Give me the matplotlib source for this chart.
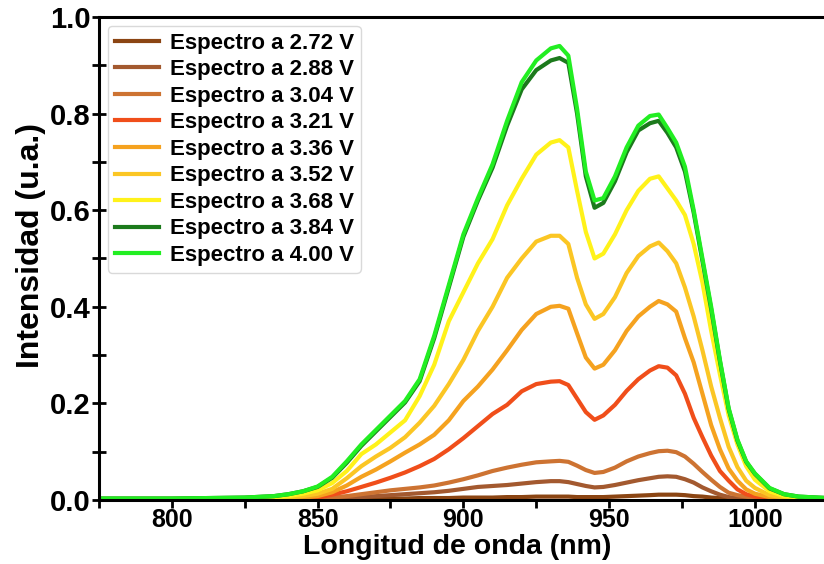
import matplotlib

matplotlib.use("Agg")
import matplotlib.pyplot as plt  # noqa: E402
from matplotlib.ticker import MultipleLocator  # noqa: E402

plt.rcParams["font.family"] = ["Liberation Sans", "DejaVu Sans"]
plt.rcParams["font.weight"] = "bold"

# --- Data ------------------------------------------------------------

WAVELENGTH = [775, 800, 825, 835, 840, 845, 850, 855, 860, 865, 870, 875,
              880, 885, 890, 895, 900, 905, 910, 915, 920, 925, 930, 933,
              936, 939, 942, 945, 948, 952, 956, 960, 964, 967, 970, 973,
              976, 979, 982, 985, 988, 991, 994, 997, 1000, 1005, 1010,
              1015, 1025]

V272 = [0.001, 0.001, 0.001, 0.001, 0.001, 0.001, 0.001, 0.001, 0.002,
        0.002, 0.003, 0.003, 0.003, 0.004, 0.004, 0.004, 0.005, 0.005,
        0.005, 0.006, 0.006, 0.007, 0.007, 0.007, 0.007, 0.006, 0.006,
        0.006, 0.006, 0.007, 0.008, 0.009, 0.010, 0.011, 0.011, 0.011,
        0.010, 0.008, 0.007, 0.005, 0.004, 0.003, 0.002, 0.002, 0.001,
        0.001, 0.001, 0.001, 0.001]
V288 = [0.001, 0.001, 0.001, 0.001, 0.001, 0.001, 0.002, 0.003, 0.004,
        0.006, 0.008, 0.010, 0.012, 0.014, 0.016, 0.019, 0.023, 0.027,
        0.029, 0.031, 0.034, 0.037, 0.039, 0.039, 0.037, 0.033, 0.029,
        0.026, 0.027, 0.031, 0.036, 0.041, 0.045, 0.048, 0.049, 0.048,
        0.043, 0.036, 0.026, 0.018, 0.011, 0.006, 0.004, 0.002, 0.002,
        0.001, 0.001, 0.001, 0.001]
V304 = [0.001, 0.001, 0.001, 0.001, 0.002, 0.002, 0.003, 0.005, 0.008,
        0.012, 0.016, 0.020, 0.023, 0.026, 0.030, 0.036, 0.043, 0.051,
        0.060, 0.067, 0.073, 0.078, 0.080, 0.081, 0.079, 0.071, 0.062,
        0.056, 0.058, 0.067, 0.080, 0.090, 0.097, 0.101, 0.102, 0.099,
        0.090, 0.075, 0.058, 0.042, 0.027, 0.015, 0.010, 0.007, 0.004,
        0.002, 0.001, 0.001, 0.001]
V321 = [0.002, 0.002, 0.002, 0.002, 0.002, 0.003, 0.005, 0.011, 0.018,
        0.027, 0.036, 0.046, 0.057, 0.070, 0.085, 0.105, 0.128, 0.153,
        0.178, 0.197, 0.225, 0.240, 0.245, 0.246, 0.238, 0.210, 0.182,
        0.166, 0.175, 0.197, 0.226, 0.250, 0.268, 0.277, 0.274, 0.258,
        0.220, 0.170, 0.130, 0.092, 0.060, 0.040, 0.022, 0.012, 0.007,
        0.004, 0.002, 0.002, 0.002]
V336 = [0.002, 0.002, 0.002, 0.002, 0.003, 0.005, 0.008, 0.016, 0.030,
        0.048, 0.063, 0.080, 0.098, 0.115, 0.135, 0.165, 0.205, 0.235,
        0.270, 0.310, 0.352, 0.385, 0.400, 0.402, 0.396, 0.345, 0.295,
        0.272, 0.280, 0.310, 0.350, 0.380, 0.400, 0.412, 0.405, 0.390,
        0.335, 0.285, 0.220, 0.155, 0.105, 0.065, 0.040, 0.022, 0.013,
        0.006, 0.003, 0.002, 0.002]
V352 = [0.002, 0.002, 0.002, 0.003, 0.005, 0.008, 0.013, 0.023, 0.045,
        0.070, 0.090, 0.108, 0.130, 0.160, 0.195, 0.240, 0.290, 0.350,
        0.400, 0.460, 0.500, 0.535, 0.547, 0.547, 0.530, 0.460, 0.405,
        0.375, 0.385, 0.420, 0.470, 0.505, 0.525, 0.533, 0.515, 0.490,
        0.440, 0.380, 0.310, 0.235, 0.170, 0.110, 0.068, 0.040, 0.025,
        0.010, 0.005, 0.003, 0.002]
V368 = [0.002, 0.002, 0.003, 0.005, 0.008, 0.013, 0.020, 0.035, 0.060,
        0.095, 0.115, 0.140, 0.165, 0.215, 0.280, 0.370, 0.430, 0.490,
        0.540, 0.610, 0.665, 0.715, 0.740, 0.745, 0.730, 0.640, 0.555,
        0.500, 0.510, 0.550, 0.600, 0.640, 0.665, 0.670, 0.645, 0.620,
        0.590, 0.530, 0.450, 0.350, 0.260, 0.175, 0.115, 0.070, 0.042,
        0.018, 0.008, 0.005, 0.003]
V384 = [0.003, 0.003, 0.005, 0.008, 0.012, 0.018, 0.027, 0.046, 0.077,
        0.112, 0.142, 0.172, 0.202, 0.246, 0.335, 0.440, 0.545, 0.620,
        0.688, 0.775, 0.850, 0.890, 0.910, 0.915, 0.905, 0.800, 0.670,
        0.605, 0.615, 0.660, 0.720, 0.765, 0.780, 0.785, 0.760, 0.730,
        0.680, 0.595, 0.495, 0.395, 0.287, 0.188, 0.123, 0.079, 0.054,
        0.024, 0.012, 0.007, 0.004]
V400 = [0.003, 0.003, 0.005, 0.008, 0.012, 0.018, 0.028, 0.048, 0.080,
        0.115, 0.145, 0.175, 0.205, 0.250, 0.340, 0.445, 0.550, 0.625,
        0.695, 0.785, 0.865, 0.910, 0.935, 0.940, 0.920, 0.810, 0.680,
        0.620, 0.625, 0.670, 0.730, 0.775, 0.795, 0.798, 0.770, 0.740,
        0.690, 0.600, 0.500, 0.400, 0.290, 0.190, 0.125, 0.080, 0.055,
        0.025, 0.012, 0.007, 0.004]

SERIES = [V272, V288, V304, V321, V336, V352, V368, V384, V400]
LABELS = ["Espectro a 2.72 V", "Espectro a 2.88 V", "Espectro a 3.04 V",
          "Espectro a 3.21 V", "Espectro a 3.36 V", "Espectro a 3.52 V",
          "Espectro a 3.68 V", "Espectro a 3.84 V", "Espectro a 4.00 V"]
COLORS = ["#8b4513", "#a3592f", "#cd7332", "#f04e1a", "#f5a21f",
          "#fbc624", "#fff21a", "#1c7a1c", "#22ee22"]


def main() -> None:
    fig = plt.figure(figsize=(8.24, 5.64), dpi=100)
    ax = fig.add_axes([0.1201, 0.1135, 0.8845, 0.8564])

    for y, label, color in zip(SERIES, LABELS, COLORS):
        ax.plot(WAVELENGTH, y, color=color, linewidth=3.0, label=label,
                solid_joinstyle="round")

    ax.set_xlim(775, 1025)
    ax.set_ylim(0, 1.0)
    ax.xaxis.set_major_locator(MultipleLocator(50))
    ax.xaxis.set_minor_locator(MultipleLocator(25))
    ax.yaxis.set_major_locator(MultipleLocator(0.2))
    ax.yaxis.set_minor_locator(MultipleLocator(0.1))
    ax.yaxis.set_major_formatter(plt.FormatStrFormatter("%.1f"))

    for side in ("left", "bottom", "top"):
        ax.spines[side].set_linewidth(2.2)
    ax.spines["right"].set_visible(False)

    ax.tick_params(axis="x", which="both", direction="out", length=6,
                   width=2, labelsize=18, pad=0)
    ax.tick_params(axis="y", which="both", direction="inout", length=10,
                   width=2, labelsize=21, pad=1)

    ax.set_xlabel("Longitud de onda (nm)", fontsize=20.5, fontweight="bold")
    ax.xaxis.set_label_coords(0.491, -0.0694)
    ax.set_ylabel("Intensidad (u.a.)", fontsize=23, fontweight="bold")
    ax.yaxis.set_label_coords(-0.073, 0.526)

    leg = ax.legend(loc="upper left", fontsize=16, frameon=True,
                    handlelength=2.0, handletextpad=0.5, labelspacing=0.25,
                    borderpad=0.3, borderaxespad=0.4)
    leg.get_frame().set_edgecolor("#d0d0d0")
    leg.get_frame().set_linewidth(1.0)
    for text in leg.get_texts():
        text.set_fontweight("bold")

    fig.savefig("out.png", dpi=100)
    plt.close(fig)


if __name__ == "__main__":
    main()
